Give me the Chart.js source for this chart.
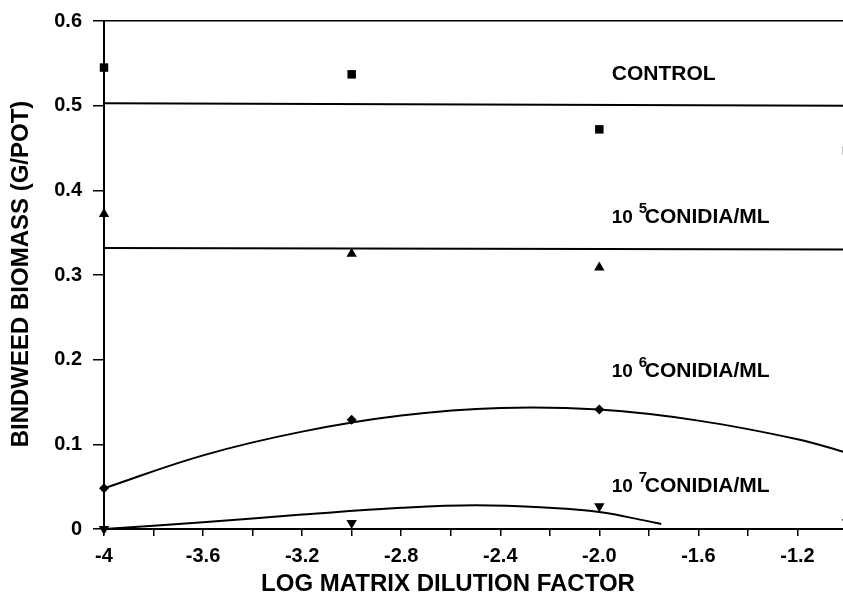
<!DOCTYPE html>
<html>
<head>
<meta charset="utf-8">
<script src="https://cdn.jsdelivr.net/npm/chart.js@4/dist/chart.umd.min.js"></script>
<style>
  body { margin: 0; background: #fff; }
  #wrap { width: 843px; height: 600px; overflow: hidden; }
</style>
</head>
<body>
<div id="wrap"><canvas id="c" width="853" height="600"></canvas></div>
<script>
// measured points
var pointX = [-4, -3, -2, -1];
var controlValues = [0.545, 0.537, 0.472, 0.447];
var conidia5Values = [0.372, 0.325, 0.309];
var conidia6Values = [0.048, 0.129, 0.141];
var conidia7Values = [0.0, 0.007, 0.027, 0.008];

// fitted lines
var flatFitX = [-4, -1];
var controlFit = [0.503, 0.500];
var conidia5Fit = [0.332, 0.330];
var conidia6FitX = [-4, -3.6, -3.2, -2.8, -2.4, -2.0, -1.6, -1.2, -1.0];
var conidia6Fit = [0.048, 0.087, 0.115, 0.134, 0.143, 0.141, 0.128, 0.106, 0.090];
var conidia7FitX = [-4, -3.6, -3.2, -2.8, -2.5, -2.2, -2.0, -1.8, -1.75];
var conidia7Fit = [0.0, 0.008, 0.017, 0.025, 0.028, 0.025, 0.020, 0.009, 0.006];

// axes
var xTickValues = [-4, -3.6, -3.2, -2.8, -2.4, -2.0, -1.6, -1.2];
var xTickLabels = ['-4', '-3.6', '-3.2', '-2.8', '-2.4', '-2.0', '-1.6', '-1.2'];
var yTickValues = [0, 0.1, 0.2, 0.3, 0.4, 0.5, 0.6];
var yTickLabels = ['0', '0.1', '0.2', '0.3', '0.4', '0.5', '0.6'];
var xTitle = 'LOG MATRIX DILUTION FACTOR';
var yTitle = 'BINDWEED BIOMASS (G/POT)';

function pts(xs, ys) {
    var out = [];
    for (var i = 0; i < ys.length; i++) {
        out.push({x: xs[i], y: ys[i]});
    }
    return out;
}

function lineSet(xs, ys, tension) {
    return {
        data: pts(xs, ys),
        showLine: true,
        borderColor: '#000',
        borderWidth: 2,
        pointRadius: 0,
        tension: tension,
        fill: false
    };
}

function markSet(ys, style, radius, rotation) {
    return {
        data: pts(pointX, ys),
        showLine: false,
        pointStyle: style,
        pointRadius: radius,
        pointRotation: rotation || 0,
        backgroundColor: '#000',
        borderColor: '#000',
        borderWidth: 0,
        clip: false
    };
}

//подписи серий и заголовки осей
var textPlugin = {
    id: 'texts',
    afterDraw: function(chart) {
        var ctx = chart.ctx;
        var xs = chart.scales.x, ys = chart.scales.y;
        ctx.save();
        ctx.fillStyle = '#000';
        ctx.textBaseline = 'alphabetic';
        ctx.textAlign = 'left';

        var bx = xs.getPixelForValue(-1.95);
        ctx.font = 'bold 21px "Liberation Sans", Arial, sans-serif';
        ctx.fillText('CONTROL', bx, ys.getPixelForValue(0.5305));

        var labs = [['5', 0.362], ['6', 0.179], ['7', 0.0436]];
        for (var i = 0; i < labs.length; i++) {
            var by = ys.getPixelForValue(labs[i][1]);
            ctx.font = 'bold 19px "Liberation Sans", Arial, sans-serif';
            ctx.fillText('10', bx, by);
            ctx.font = 'bold 15px "Liberation Sans", Arial, sans-serif';
            ctx.fillText(labs[i][0], bx + 27, by - 10);
            ctx.font = 'bold 21px "Liberation Sans", Arial, sans-serif';
            ctx.fillText('CONIDIA/ML', bx + 33, by);
        }

        ctx.font = 'bold 24px "Liberation Sans", Arial, sans-serif';
        ctx.textAlign = 'center';
        ctx.textBaseline = 'middle';
        ctx.fillText(xTitle, 448, 584);

        ctx.translate(21, 274);
        ctx.rotate(-Math.PI / 2);
        ctx.fillText(yTitle, 0, 0);
        ctx.restore();
    }
};

var chart = new Chart(document.getElementById('c'), {
    type: 'scatter',
    data: {
        datasets: [
            lineSet(flatFitX, controlFit, 0),
            lineSet(flatFitX, conidia5Fit, 0),
            lineSet(conidia6FitX, conidia6Fit, 0.4),
            lineSet(conidia7FitX, conidia7Fit, 0.4),
            markSet(controlValues, 'rect', 6),
            markSet(conidia5Values, 'triangle', 6),
            markSet(conidia6Values, 'rectRot', 5),
            markSet(conidia7Values, 'triangle', 6, 180)
        ]
    },
    options: {
        responsive: false,
        animation: false,
        layout: { padding: { top: 21, right: 0, left: 0, bottom: 0 } },
        plugins: { legend: { display: false }, tooltip: { enabled: false } },
        scales: {
            x: {
                type: 'linear',
                min: -4,
                max: -1,
                afterFit: function(s) { s.height = 71; s.paddingRight = 0; s.paddingLeft = 0; },
                ticks: {
                    stepSize: 0.2,
                    autoSkip: false,
                    maxRotation: 0,
                    padding: 8,
                    color: '#000',
                    font: { family: '"Liberation Sans", Arial, sans-serif', size: 20, weight: 'bold' },
                    callback: function(value) {
                        var v = Math.round(value * 10) / 10;
                        var k = xTickValues.indexOf(v);
                        return k >= 0 ? xTickLabels[k] : '';
                    }
                },
                grid: { drawOnChartArea: false, tickLength: 7, tickColor: '#000', lineWidth: 1.5 },
                border: { color: '#000', width: 2 }
            },
            y: {
                type: 'linear',
                min: 0,
                max: 0.6,
                afterFit: function(s) { s.width = 104; s.paddingTop = 0; s.paddingBottom = 0; },
                ticks: {
                    stepSize: 0.1,
                    padding: 11,
                    color: '#000',
                    font: { family: '"Liberation Sans", Arial, sans-serif', size: 20, weight: 'bold' },
                    callback: function(value) {
                        var v = Math.round(value * 10) / 10;
                        var k = yTickValues.indexOf(v);
                        return k >= 0 ? yTickLabels[k] : '';
                    }
                },
                grid: {
                    drawOnChartArea: true,
                    color: function(c) { return c.tick && Math.round(c.tick.value * 10) === 6 ? '#000' : 'rgba(0,0,0,0)'; },
                    tickLength: 11,
                    tickColor: '#000',
                    lineWidth: 1.5
                },
                border: { color: '#000', width: 2 }
            }
        }
    },
    plugins: [textPlugin]
});
</script>
</body>
</html>
